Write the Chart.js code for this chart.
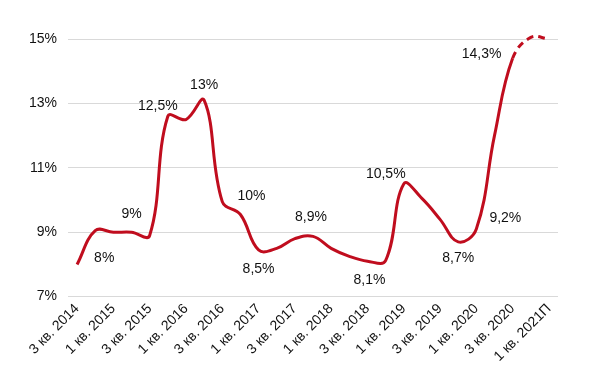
<!DOCTYPE html>
<html>
<head>
<meta charset="utf-8">
<script src="https://cdn.jsdelivr.net/npm/chart.js@4.4.1/dist/chart.umd.min.js"></script>
<style>
  html, body { margin: 0; padding: 0; background: #fff; }
  #wrap { width: 600px; height: 377px; }
</style>
</head>
<body>
<div id="wrap"><canvas id="chart"></canvas></div>
<script>
// quarters, 3 кв. 2014 .. 1 кв. 2021 (forecast)
var quarters = [
  "3 кв. 2014", "4 кв. 2014", "1 кв. 2015", "2 кв. 2015", "3 кв. 2015", "4 кв. 2015",
  "1 кв. 2016", "2 кв. 2016", "3 кв. 2016", "4 кв. 2016", "1 кв. 2017", "2 кв. 2017",
  "3 кв. 2017", "4 кв. 2017", "1 кв. 2018", "2 кв. 2018", "3 кв. 2018", "4 кв. 2018",
  "1 кв. 2019", "2 кв. 2019", "3 кв. 2019", "4 кв. 2019", "1 кв. 2020", "2 кв. 2020",
  "3 кв. 2020", "4 кв. 2020", "1 кв. 2021П"
];
var values = [
  8.0, 9.05, 9.0, 9.0, 8.9, 12.6,
  12.5, 13.1, 9.95, 9.55, 8.45, 8.5,
  8.8, 8.87, 8.5, 8.25, 8.1, 8.12,
  10.5, 10.05, 9.4, 8.7, 9.1, 12.0,
  14.4, 15.05, 15.0
];
var yTicks = [7, 9, 11, 13, 15];
// data labels: text and the point they belong to
var labelTexts = ["8%", "9%", "12,5%", "13%", "10%", "8,5%", "8,9%", "8,1%", "10,5%", "8,7%", "9,2%", "14,3%"];
var labelIdx   = [1, 3, 5, 7, 9, 10, 13, 16, 18, 21, 22, 24];
var forecastFrom = 24;

// pixel offsets of the labels from their points
var labelOffsets = [[9, 28], [0, -18], [-10, -10], [0, -15], [11, -18], [0, 19],
                    [-2, -19], [2, 19], [-18, -10], [0, 16], [29, -11], [-31, -4]];

var FONT = '"Liberation Sans", Arial, sans-serif';

var pointLabels = {
  id: 'pointLabels',
  afterDatasetsDraw: function (chart) {
    var ctx = chart.ctx;
    var meta = chart.getDatasetMeta(0);
    ctx.save();
    ctx.font = '14px ' + FONT;
    ctx.fillStyle = '#111';
    ctx.textAlign = 'center';
    ctx.textBaseline = 'middle';
    labelTexts.forEach(function (t, k) {
      var p = meta.data[labelIdx[k]];
      ctx.fillText(t, p.x + labelOffsets[k][0], p.y + labelOffsets[k][1]);
    });
    ctx.restore();
  }
};

new Chart(document.getElementById('chart'), {
  type: 'line',
  data: {
    labels: quarters,
    datasets: [{
      data: values,
      borderColor: '#c00d1e',
      borderWidth: 3,
      pointRadius: 0,
      tension: 0.4,
      fill: false,
      clip: false,
      segment: {
        borderDash: function (c) { return c.p0DataIndex >= forecastFrom ? [7, 5] : undefined; }
      }
    }]
  },
  options: {
    responsive: true,
    maintainAspectRatio: false,
    animation: false,
    layout: { padding: { top: 39, right: 42, bottom: 16, left: 10 } },
    plugins: { legend: { display: false }, tooltip: { enabled: false } },
    scales: {
      x: {
        offset: true,
        grid: { display: false },
        border: { display: false },
        ticks: {
          autoSkip: false,
          maxRotation: 45,
          minRotation: 45,
          padding: -4,
          color: '#111',
          font: { family: FONT, size: 14 },
          callback: function (v, i) { return i % 2 === 0 ? quarters[i] : null; }
        }
      },
      y: {
        min: 7,
        max: 15,
        afterBuildTicks: function (axis) { axis.ticks = yTicks.map(function (v) { return { value: v }; }); },
        grid: { color: '#d9d9d9', lineWidth: 1, drawTicks: false },
        border: { display: false },
        afterFit: function (axis) { axis.width = 58; },
        ticks: {
          padding: 11,
          color: '#111',
          font: { family: FONT, size: 14 },
          callback: function (v) { return v + '%'; }
        }
      }
    }
  },
  plugins: [pointLabels]
});
</script>
</body>
</html>
